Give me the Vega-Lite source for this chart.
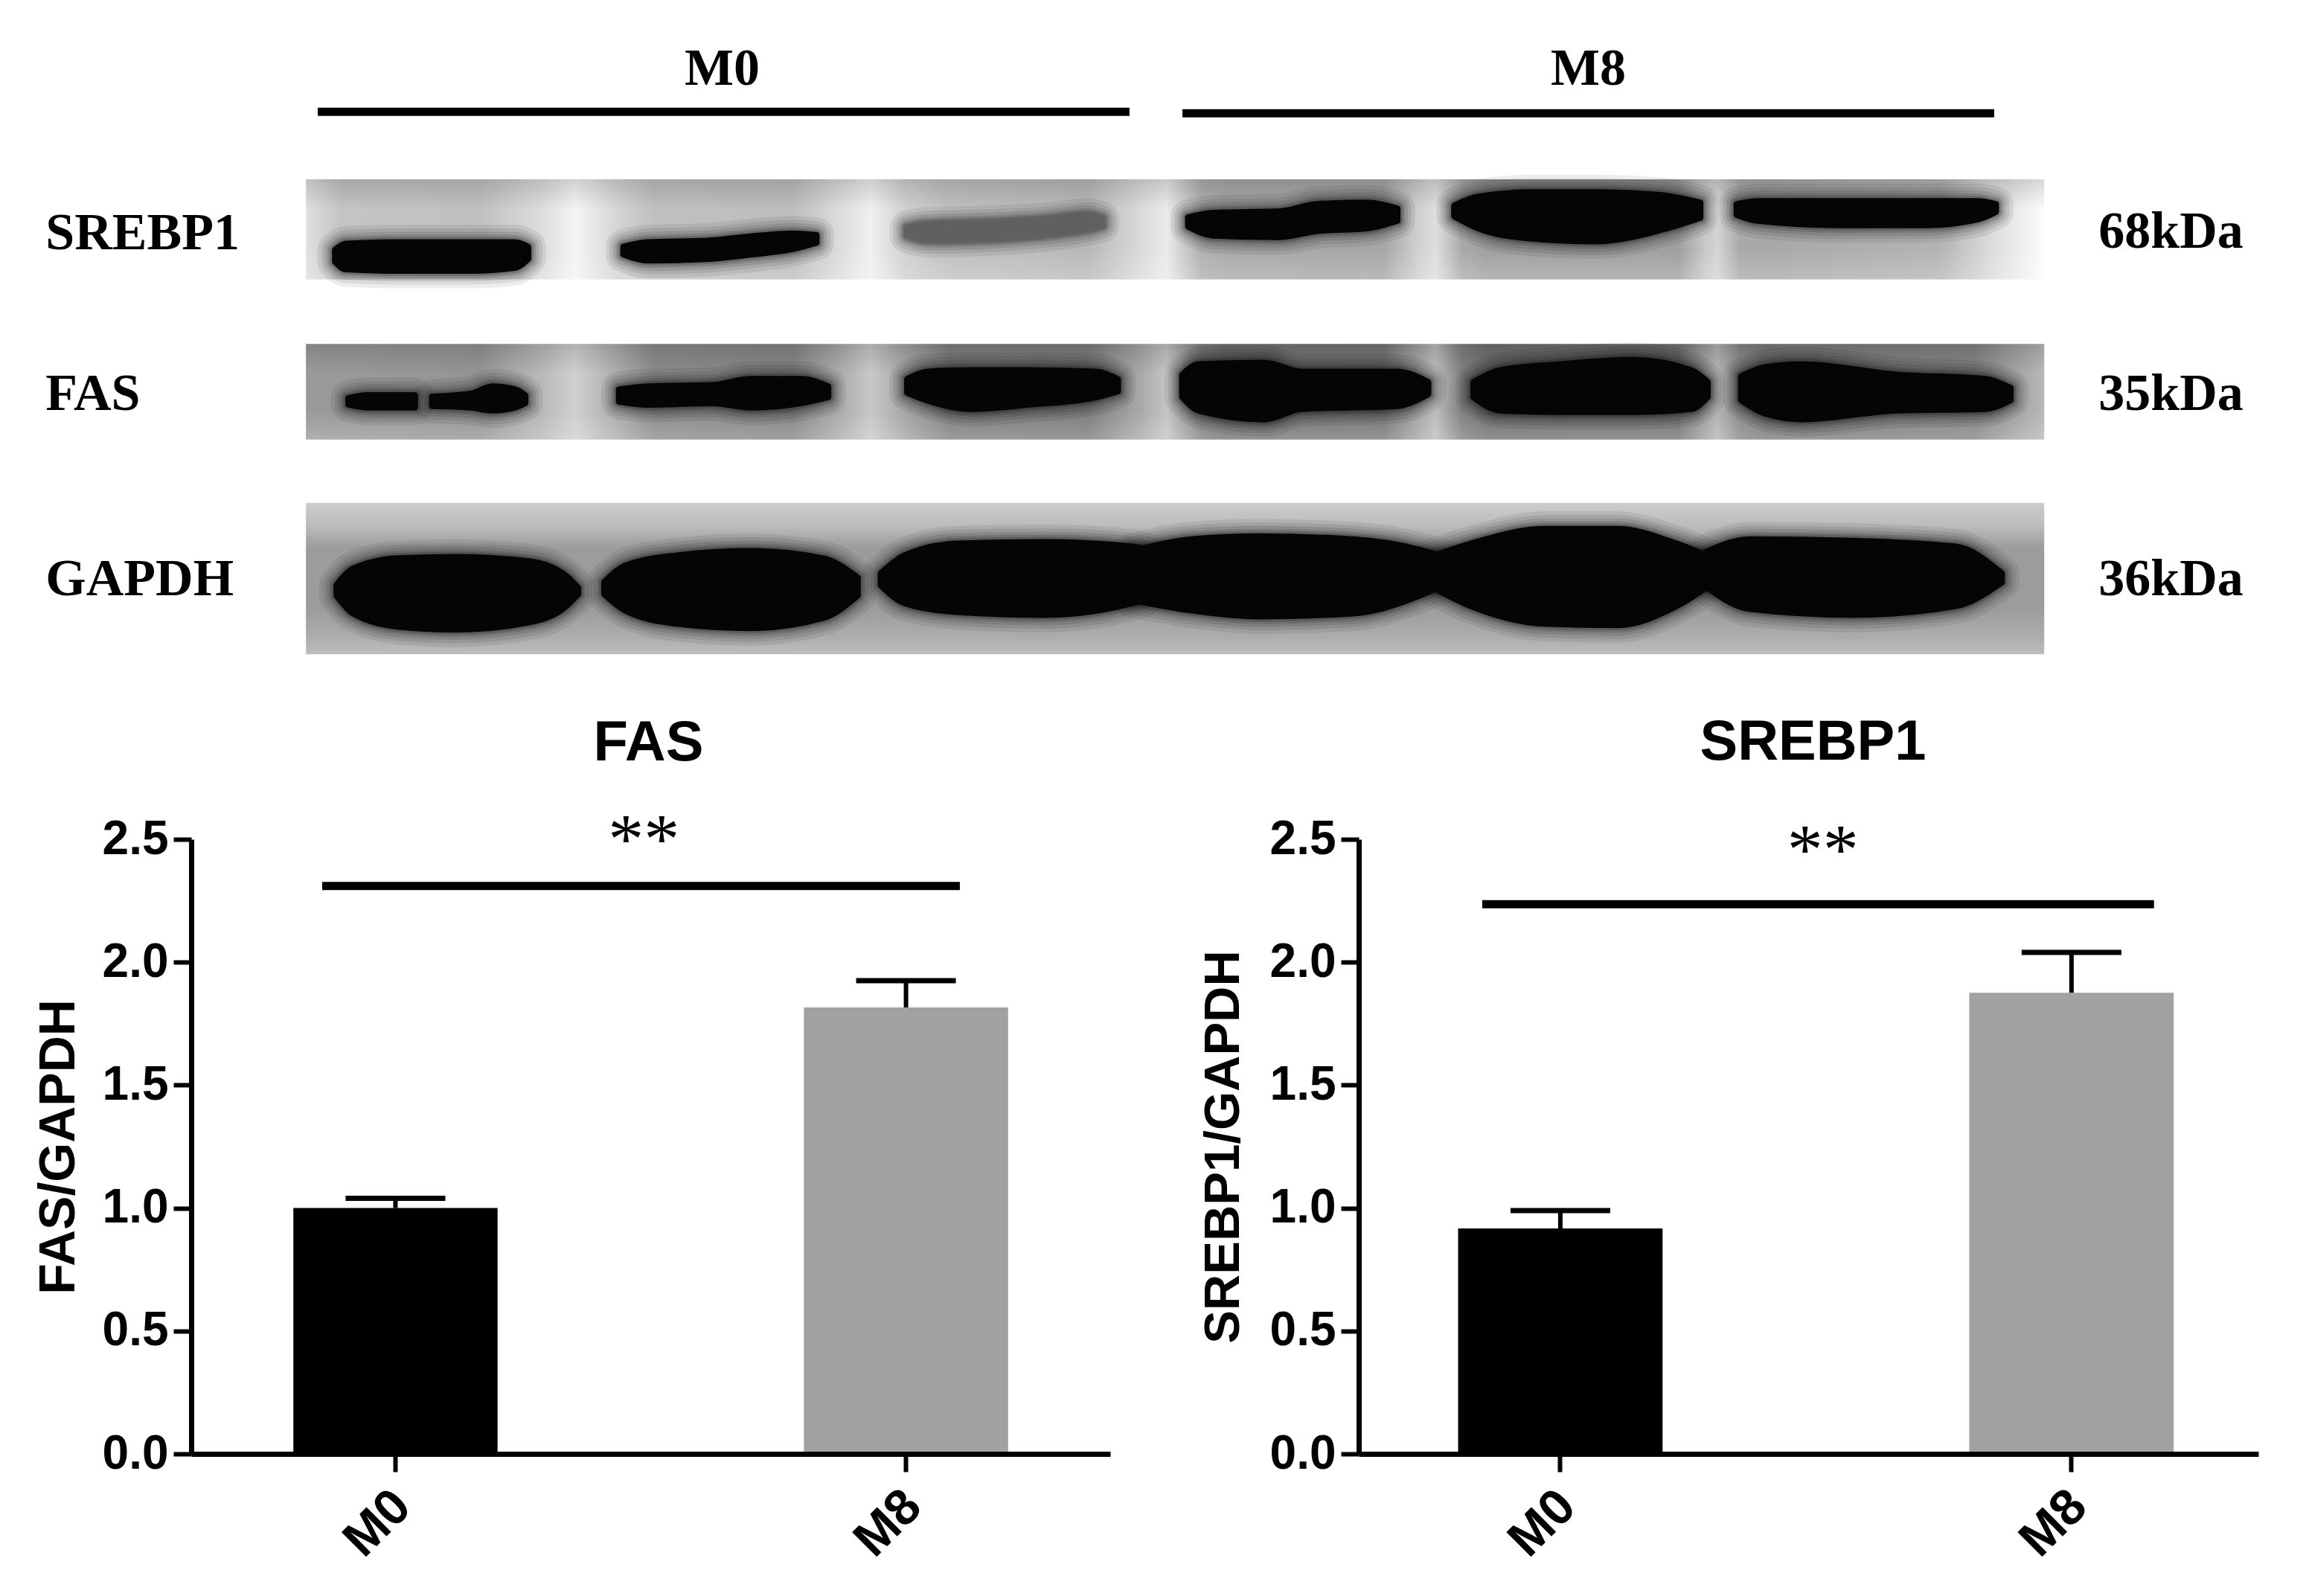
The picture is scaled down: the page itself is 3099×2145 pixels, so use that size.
{
  "$schema": "https://vega.github.io/schema/vega-lite/v6.json",
  "background": "white",
  "padding": {"left": 45, "top": 0, "right": 0, "bottom": 0},
  "spacing": 40,
  "datasets": {
    "strips": [
      {"blot": "SREBP1", "left": 208, "right": 1390, "top": 122, "bottom": 190},
      {"blot": "FAS", "left": 208, "right": 1390, "top": 234, "bottom": 299},
      {"blot": "GAPDH", "left": 208, "right": 1390, "top": 342, "bottom": 445}
    ],
    "bands": [
      {"band": "S1", "density": 1, "pos": 228, "top": 170, "bottom": 178},
      {"band": "S1", "density": 1, "pos": 235, "top": 166, "bottom": 183},
      {"band": "S1", "density": 1, "pos": 270, "top": 165, "bottom": 184},
      {"band": "S1", "density": 1, "pos": 320, "top": 165, "bottom": 184},
      {"band": "S1", "density": 1, "pos": 350, "top": 165, "bottom": 182},
      {"band": "S1", "density": 1, "pos": 359, "top": 168, "bottom": 176},
      {"band": "S2", "density": 1, "pos": 424, "top": 168, "bottom": 173},
      {"band": "S2", "density": 1, "pos": 440, "top": 165, "bottom": 177},
      {"band": "S2", "density": 1, "pos": 480, "top": 164, "bottom": 176},
      {"band": "S2", "density": 1, "pos": 510, "top": 161, "bottom": 173},
      {"band": "S2", "density": 1, "pos": 540, "top": 159, "bottom": 169},
      {"band": "S2", "density": 1, "pos": 555, "top": 160, "bottom": 165},
      {"band": "S3", "density": 0.6, "pos": 617, "top": 155, "bottom": 160},
      {"band": "S3", "density": 0.6, "pos": 630, "top": 153, "bottom": 163},
      {"band": "S3", "density": 0.6, "pos": 670, "top": 152, "bottom": 162},
      {"band": "S3", "density": 0.6, "pos": 710, "top": 150, "bottom": 159},
      {"band": "S3", "density": 0.6, "pos": 740, "top": 147, "bottom": 155},
      {"band": "S3", "density": 0.6, "pos": 749, "top": 149, "bottom": 153},
      {"band": "S4", "density": 1, "pos": 808, "top": 148, "bottom": 154},
      {"band": "S4", "density": 1, "pos": 825, "top": 145, "bottom": 160},
      {"band": "S4", "density": 1, "pos": 870, "top": 144, "bottom": 161},
      {"band": "S4", "density": 1, "pos": 895, "top": 139, "bottom": 157},
      {"band": "S4", "density": 1, "pos": 930, "top": 138, "bottom": 155},
      {"band": "S4", "density": 1, "pos": 950, "top": 142, "bottom": 150},
      {"band": "S5", "density": 1, "pos": 989, "top": 140, "bottom": 147},
      {"band": "S5", "density": 1, "pos": 1005, "top": 134, "bottom": 155},
      {"band": "S5", "density": 1, "pos": 1040, "top": 131, "bottom": 162},
      {"band": "S5", "density": 1, "pos": 1085, "top": 131, "bottom": 164},
      {"band": "S5", "density": 1, "pos": 1130, "top": 133, "bottom": 156},
      {"band": "S5", "density": 1, "pos": 1156, "top": 138, "bottom": 148},
      {"band": "S6", "density": 1, "pos": 1181, "top": 139, "bottom": 146},
      {"band": "S6", "density": 1, "pos": 1195, "top": 137, "bottom": 150},
      {"band": "S6", "density": 1, "pos": 1250, "top": 137, "bottom": 153},
      {"band": "S6", "density": 1, "pos": 1310, "top": 137, "bottom": 153},
      {"band": "S6", "density": 1, "pos": 1345, "top": 137, "bottom": 149},
      {"band": "S6", "density": 1, "pos": 1357, "top": 139, "bottom": 144},
      {"band": "F1a", "density": 1, "pos": 237, "top": 271, "bottom": 275},
      {"band": "F1a", "density": 1, "pos": 250, "top": 269, "bottom": 277},
      {"band": "F1a", "density": 1, "pos": 282, "top": 269, "bottom": 277},
      {"band": "F1b", "density": 1, "pos": 294, "top": 270, "bottom": 276},
      {"band": "F1b", "density": 1, "pos": 320, "top": 268, "bottom": 277},
      {"band": "F1b", "density": 1, "pos": 335, "top": 263, "bottom": 279},
      {"band": "F1b", "density": 1, "pos": 350, "top": 265, "bottom": 277},
      {"band": "F1b", "density": 1, "pos": 357, "top": 269, "bottom": 274},
      {"band": "F2", "density": 1, "pos": 421, "top": 265, "bottom": 273},
      {"band": "F2", "density": 1, "pos": 440, "top": 263, "bottom": 275},
      {"band": "F2", "density": 1, "pos": 485, "top": 262, "bottom": 274},
      {"band": "F2", "density": 1, "pos": 510, "top": 258, "bottom": 277},
      {"band": "F2", "density": 1, "pos": 545, "top": 258, "bottom": 274},
      {"band": "F2", "density": 1, "pos": 563, "top": 263, "bottom": 270},
      {"band": "F3", "density": 1, "pos": 617, "top": 258, "bottom": 267},
      {"band": "F3", "density": 1, "pos": 630, "top": 253, "bottom": 272},
      {"band": "F3", "density": 1, "pos": 660, "top": 252, "bottom": 278},
      {"band": "F3", "density": 1, "pos": 700, "top": 252, "bottom": 275},
      {"band": "F3", "density": 1, "pos": 745, "top": 253, "bottom": 270},
      {"band": "F3", "density": 1, "pos": 760, "top": 258, "bottom": 266},
      {"band": "F4", "density": 1, "pos": 804, "top": 255, "bottom": 270},
      {"band": "F4", "density": 1, "pos": 815, "top": 248, "bottom": 279},
      {"band": "F4", "density": 1, "pos": 860, "top": 247, "bottom": 285},
      {"band": "F4", "density": 1, "pos": 885, "top": 253, "bottom": 278},
      {"band": "F4", "density": 1, "pos": 950, "top": 253, "bottom": 276},
      {"band": "F4", "density": 1, "pos": 971, "top": 260, "bottom": 268},
      {"band": "F5", "density": 1, "pos": 1002, "top": 260, "bottom": 270},
      {"band": "F5", "density": 1, "pos": 1020, "top": 252, "bottom": 279},
      {"band": "F5", "density": 1, "pos": 1060, "top": 248, "bottom": 280},
      {"band": "F5", "density": 1, "pos": 1110, "top": 245, "bottom": 280},
      {"band": "F5", "density": 1, "pos": 1150, "top": 252, "bottom": 278},
      {"band": "F5", "density": 1, "pos": 1161, "top": 260, "bottom": 270},
      {"band": "F6", "density": 1, "pos": 1184, "top": 256, "bottom": 272},
      {"band": "F6", "density": 1, "pos": 1200, "top": 250, "bottom": 281},
      {"band": "F6", "density": 1, "pos": 1225, "top": 248, "bottom": 285},
      {"band": "F6", "density": 1, "pos": 1290, "top": 255, "bottom": 279},
      {"band": "F6", "density": 1, "pos": 1350, "top": 258, "bottom": 278},
      {"band": "F6", "density": 1, "pos": 1367, "top": 264, "bottom": 272},
      {"band": "G1", "density": 1, "pos": 229, "top": 398, "bottom": 405},
      {"band": "G1", "density": 1, "pos": 240, "top": 387, "bottom": 417},
      {"band": "G1", "density": 1, "pos": 270, "top": 380, "bottom": 426},
      {"band": "G1", "density": 1, "pos": 310, "top": 379, "bottom": 428},
      {"band": "G1", "density": 1, "pos": 360, "top": 382, "bottom": 423},
      {"band": "G1", "density": 1, "pos": 385, "top": 392, "bottom": 412},
      {"band": "G1", "density": 1, "pos": 393, "top": 400, "bottom": 404},
      {"band": "G2", "density": 1, "pos": 411, "top": 396, "bottom": 404},
      {"band": "G2", "density": 1, "pos": 425, "top": 385, "bottom": 415},
      {"band": "G2", "density": 1, "pos": 460, "top": 378, "bottom": 424},
      {"band": "G2", "density": 1, "pos": 510, "top": 375, "bottom": 427},
      {"band": "G2", "density": 1, "pos": 560, "top": 380, "bottom": 420},
      {"band": "G2", "density": 1, "pos": 583, "top": 393, "bottom": 405},
      {"band": "G3", "density": 1, "pos": 599, "top": 390, "bottom": 398},
      {"band": "G3", "density": 1, "pos": 615, "top": 378, "bottom": 410},
      {"band": "G3", "density": 1, "pos": 650, "top": 370, "bottom": 416},
      {"band": "G3", "density": 1, "pos": 710, "top": 369, "bottom": 418},
      {"band": "G3", "density": 1, "pos": 770, "top": 372, "bottom": 410},
      {"band": "G3", "density": 1, "pos": 790, "top": 380, "bottom": 400},
      {"band": "G4", "density": 1, "pos": 770, "top": 375, "bottom": 408},
      {"band": "G4", "density": 1, "pos": 810, "top": 367, "bottom": 415},
      {"band": "G4", "density": 1, "pos": 855, "top": 365, "bottom": 419},
      {"band": "G4", "density": 1, "pos": 920, "top": 367, "bottom": 417},
      {"band": "G4", "density": 1, "pos": 965, "top": 374, "bottom": 405},
      {"band": "G4", "density": 1, "pos": 985, "top": 380, "bottom": 396},
      {"band": "G5", "density": 1, "pos": 970, "top": 380, "bottom": 397},
      {"band": "G5", "density": 1, "pos": 1000, "top": 370, "bottom": 412},
      {"band": "G5", "density": 1, "pos": 1050, "top": 360, "bottom": 424},
      {"band": "G5", "density": 1, "pos": 1100, "top": 360, "bottom": 425},
      {"band": "G5", "density": 1, "pos": 1140, "top": 370, "bottom": 412},
      {"band": "G5", "density": 1, "pos": 1165, "top": 380, "bottom": 396},
      {"band": "G6", "density": 1, "pos": 1155, "top": 378, "bottom": 395},
      {"band": "G6", "density": 1, "pos": 1190, "top": 367, "bottom": 414},
      {"band": "G6", "density": 1, "pos": 1260, "top": 368, "bottom": 418},
      {"band": "G6", "density": 1, "pos": 1330, "top": 372, "bottom": 412},
      {"band": "G6", "density": 1, "pos": 1361, "top": 390, "bottom": 396}
    ],
    "fas_bars": [
      {"group": "M0", "value": 1.0, "upper": 1.04},
      {"group": "M8", "value": 1.816, "upper": 1.925}
    ],
    "srebp1_bars": [
      {"group": "M0", "value": 0.917, "upper": 0.99},
      {"group": "M8", "value": 1.876, "upper": 2.04}
    ]
  },
  "config": {
    "view": {"stroke": null},
    "axis": {"grid": false, "domainColor": "black", "tickColor": "black", "labelColor": "black", "titleColor": "black", "labelFont": "Liberation Sans", "titleFont": "Liberation Sans", "labelFontWeight": "bold", "titleFontWeight": "bold"},
    "title": {"font": "Liberation Sans", "fontWeight": "bold", "color": "black"}
  },
  "vconcat": [
    {
      "width": 2842,
      "height": 920,
      "layer": [
        {
          "data": {"name": "strips"},
          "transform": [{"filter": "datum.blot == 'SREBP1'"}],
          "mark": {"type": "rect", "color": {"gradient": "linear", "x1": 0, "y1": 0, "x2": 1, "y2": 0, "stops": [
            {"offset": 0, "color": "#e0e0e0"}, {"offset": 0.02, "color": "#c4c4c4"}, {"offset": 0.1, "color": "#c0c0c0"}, {"offset": 0.135, "color": "#dcdcdc"},
            {"offset": 0.155, "color": "#f4f4f4"}, {"offset": 0.18, "color": "#d4d4d4"}, {"offset": 0.2, "color": "#c0c0c0"}, {"offset": 0.28, "color": "#bdbdbd"},
            {"offset": 0.31, "color": "#e0e0e0"}, {"offset": 0.325, "color": "#f0f0f0"}, {"offset": 0.345, "color": "#d0d0d0"}, {"offset": 0.37, "color": "#c0c0c0"},
            {"offset": 0.45, "color": "#b8b8b8"}, {"offset": 0.48, "color": "#dadada"}, {"offset": 0.495, "color": "#eaeaea"}, {"offset": 0.515, "color": "#b0b0b0"},
            {"offset": 0.53, "color": "#a8a8a8"}, {"offset": 0.62, "color": "#a6a6a6"}, {"offset": 0.64, "color": "#d0d0d0"}, {"offset": 0.65, "color": "#dedede"},
            {"offset": 0.665, "color": "#aaaaaa"}, {"offset": 0.68, "color": "#a0a0a0"}, {"offset": 0.79, "color": "#a0a0a0"}, {"offset": 0.805, "color": "#c8c8c8"},
            {"offset": 0.812, "color": "#d4d4d4"}, {"offset": 0.825, "color": "#aaaaaa"}, {"offset": 0.84, "color": "#a8a8a8"}, {"offset": 0.94, "color": "#b4b4b4"},
            {"offset": 0.97, "color": "#dcdcdc"}, {"offset": 1, "color": "#fcfcfc"}
          ]}},
          "encoding": {
            "x": {"field": "left", "type": "quantitative", "axis": null, "scale": {"domain": [130, 1568], "nice": false, "zero": false}},
            "x2": {"field": "right"},
            "y": {"field": "top", "type": "quantitative", "axis": null, "scale": {"domain": [0, 465.6], "reverse": true, "nice": false, "zero": false}},
            "y2": {"field": "bottom"}
          }
        },
        {
          "data": {"name": "strips"},
          "transform": [{"filter": "datum.blot == 'FAS'"}],
          "mark": {"type": "rect", "color": {"gradient": "linear", "x1": 0, "y1": 0, "x2": 1, "y2": 0, "stops": [
            {"offset": 0, "color": "#9a9a9a"}, {"offset": 0.1, "color": "#949494"}, {"offset": 0.135, "color": "#b8b8b8"}, {"offset": 0.155, "color": "#d0d0d0"},
            {"offset": 0.18, "color": "#aaaaaa"}, {"offset": 0.2, "color": "#8c8c8c"}, {"offset": 0.28, "color": "#858585"}, {"offset": 0.31, "color": "#b0b0b0"},
            {"offset": 0.325, "color": "#c8c8c8"}, {"offset": 0.345, "color": "#a4a4a4"}, {"offset": 0.37, "color": "#808080"}, {"offset": 0.45, "color": "#7c7c7c"},
            {"offset": 0.48, "color": "#a8a8a8"}, {"offset": 0.495, "color": "#c4c4c4"}, {"offset": 0.515, "color": "#808080"}, {"offset": 0.53, "color": "#747474"},
            {"offset": 0.62, "color": "#767676"}, {"offset": 0.64, "color": "#a4a4a4"}, {"offset": 0.65, "color": "#bcbcbc"}, {"offset": 0.665, "color": "#808080"},
            {"offset": 0.68, "color": "#707070"}, {"offset": 0.79, "color": "#747474"}, {"offset": 0.805, "color": "#a0a0a0"}, {"offset": 0.812, "color": "#b4b4b4"},
            {"offset": 0.825, "color": "#888888"}, {"offset": 0.84, "color": "#7a7a7a"}, {"offset": 0.96, "color": "#848484"}, {"offset": 1, "color": "#b8b8b8"}
          ]}},
          "encoding": {
            "x": {"field": "left", "type": "quantitative"},
            "x2": {"field": "right"},
            "y": {"field": "top", "type": "quantitative"},
            "y2": {"field": "bottom"}
          }
        },
        {
          "data": {"name": "strips"},
          "transform": [{"filter": "datum.blot != 'GAPDH'"}],
          "mark": {"type": "rect", "color": {"gradient": "linear", "x1": 0, "y1": 0, "x2": 0, "y2": 1, "stops": [
            {"offset": 0, "color": "rgba(0,0,0,0.14)"}, {"offset": 0.3, "color": "rgba(0,0,0,0)"}, {"offset": 0.7, "color": "rgba(255,255,255,0)"}, {"offset": 1, "color": "rgba(255,255,255,0.22)"}
          ]}},
          "encoding": {
            "x": {"field": "left", "type": "quantitative"},
            "x2": {"field": "right"},
            "y": {"field": "top", "type": "quantitative"},
            "y2": {"field": "bottom"}
          }
        },
        {
          "data": {"name": "strips"},
          "transform": [{"filter": "datum.blot == 'GAPDH'"}],
          "mark": {"type": "rect", "color": {"gradient": "linear", "x1": 0, "y1": 0, "x2": 0, "y2": 1, "stops": [
            {"offset": 0, "color": "#cdcdcd"}, {"offset": 0.15, "color": "#bcbcbc"}, {"offset": 0.3, "color": "#9c9c9c"}, {"offset": 0.7, "color": "#9c9c9c"},
            {"offset": 0.88, "color": "#acacac"}, {"offset": 1, "color": "#bdbdbd"}
          ]}},
          "encoding": {
            "x": {"field": "left", "type": "quantitative"},
            "x2": {"field": "right"},
            "y": {"field": "top", "type": "quantitative"},
            "y2": {"field": "bottom"}
          }
        },
        {
          "data": {"name": "bands"},
          "encoding": {
            "x": {"field": "pos", "type": "quantitative"},
            "y": {"field": "top", "type": "quantitative"},
            "y2": {"field": "bottom"},
            "detail": {"field": "band"}
          },
          "layer": [
            {"mark": {"type": "area", "orient": "vertical", "interpolate": "monotone", "color": "black", "fillOpacity": 0.07, "stroke": "black", "strokeOpacity": 0.07, "strokeWidth": 48, "strokeJoin": "round"}},
            {"mark": {"type": "area", "orient": "vertical", "interpolate": "monotone", "color": "black", "fillOpacity": 0.08, "stroke": "black", "strokeOpacity": 0.08, "strokeWidth": 38, "strokeJoin": "round"}},
            {"mark": {"type": "area", "orient": "vertical", "interpolate": "monotone", "color": "black", "fillOpacity": 0.1, "stroke": "black", "strokeOpacity": 0.1, "strokeWidth": 29, "strokeJoin": "round"}},
            {"mark": {"type": "area", "orient": "vertical", "interpolate": "monotone", "color": "black", "fillOpacity": 0.12, "stroke": "black", "strokeOpacity": 0.13, "strokeWidth": 21, "strokeJoin": "round"}},
            {"mark": {"type": "area", "orient": "vertical", "interpolate": "monotone", "color": "black", "fillOpacity": 0.15, "stroke": "black", "strokeOpacity": 0.18, "strokeWidth": 15, "strokeJoin": "round"}},
            {
              "mark": {"type": "area", "orient": "vertical", "interpolate": "monotone", "strokeWidth": 9, "strokeJoin": "round"},
              "encoding": {
                "color": {"field": "density", "type": "quantitative", "legend": null, "scale": {"domain": [0, 1], "range": ["#ffffff", "#050505"]}},
                "stroke": {"field": "density", "type": "quantitative", "legend": null, "scale": {"domain": [0, 1], "range": ["#ffffff", "#050505"]}}
              }
            }
          ]
        },
        {
          "data": {"values": [
            {"left": 216, "right": 768, "level": 76},
            {"left": 804, "right": 1356, "level": 77}
          ]},
          "mark": {"type": "rule", "color": "black", "strokeWidth": 11},
          "encoding": {
            "x": {"field": "left", "type": "quantitative"},
            "x2": {"field": "right"},
            "y": {"field": "level", "type": "quantitative"}
          }
        },
        {
          "data": {"values": [
            {"label": "M0", "pos": 491, "level": 47},
            {"label": "M8", "pos": 1080, "level": 47}
          ]},
          "mark": {"type": "text", "font": "Liberation Serif", "fontWeight": "bold", "fontSize": 70, "align": "center", "baseline": "middle", "color": "black"},
          "encoding": {
            "x": {"field": "pos", "type": "quantitative"},
            "y": {"field": "level", "type": "quantitative"},
            "text": {"field": "label"}
          }
        },
        {
          "data": {"values": [
            {"label": "SREBP1", "pos": 31, "level": 159},
            {"label": "FAS", "pos": 31, "level": 268},
            {"label": "GAPDH", "pos": 31, "level": 394},
            {"label": "68kDa", "pos": 1427, "level": 158},
            {"label": "35kDa", "pos": 1427, "level": 268},
            {"label": "36kDa", "pos": 1427, "level": 394}
          ]},
          "mark": {"type": "text", "font": "Liberation Serif", "fontWeight": "bold", "fontSize": 70, "align": "left", "baseline": "middle", "color": "black"},
          "encoding": {
            "x": {"field": "pos", "type": "quantitative"},
            "y": {"field": "level", "type": "quantitative"},
            "text": {"field": "label"}
          }
        }
      ]
    },
    {
      "spacing": 118,
      "hconcat": [
        {
          "width": 1235,
          "height": 826,
          "title": {"text": "FAS", "fontSize": 76, "offset": 45, "anchor": "middle", "dx": -3},
          "resolve": {"scale": {"x": "independent"}},
          "layer": [
            {
              "data": {"name": "fas_bars"},
              "encoding": {
                "x": {"field": "group", "type": "nominal", "title": null, "scale": {"paddingInner": 0.6, "paddingOuter": 0.2}, "axis": {"labelAngle": -45, "labelAlign": "right", "labelBaseline": "middle", "labelFontSize": 68, "labelPadding": 36, "labelOffset": 10, "tickSize": 24, "tickWidth": 6, "domainWidth": 7, "zindex": 1}}
              },
              "layer": [
                {
                  "mark": {"type": "bar"},
                  "encoding": {
                    "y": {"field": "value", "type": "quantitative", "title": "FAS/GAPDH", "scale": {"domain": [0, 2.5], "nice": false}, "axis": {"values": [0, 0.5, 1, 1.5, 2, 2.5], "format": ".1f", "labelFontSize": 64, "labelPadding": 7, "titleFontSize": 68, "titlePadding": 24, "tickSize": 24, "tickWidth": 6, "domainWidth": 7, "zindex": 1}},
                    "color": {"field": "group", "type": "nominal", "legend": null, "scale": {"domain": ["M0", "M8"], "range": ["#000000", "#a1a1a4"]}}
                  }
                },
                {
                  "mark": {"type": "rule", "color": "black", "strokeWidth": 6},
                  "encoding": {
                    "y": {"field": "value", "type": "quantitative"},
                    "y2": {"field": "upper"}
                  }
                },
                {
                  "mark": {"type": "tick", "color": "black", "size": 134, "thickness": 7, "opacity": 1},
                  "encoding": {
                    "y": {"field": "upper", "type": "quantitative"}
                  }
                }
              ]
            },
            {
              "data": {"values": [{"start": 0.1425, "end": 0.8364, "level": 2.31}]},
              "mark": {"type": "rule", "color": "black", "strokeWidth": 11},
              "encoding": {
                "x": {"field": "start", "type": "quantitative", "axis": null, "scale": {"domain": [0, 1], "nice": false}},
                "x2": {"field": "end"},
                "y": {"field": "level", "type": "quantitative"}
              }
            },
            {
              "data": {"values": [{"pos": 0.4925, "level": 2.49, "label": "**"}]},
              "mark": {"type": "text", "font": "Liberation Serif", "fontSize": 96, "align": "center", "baseline": "middle", "color": "black"},
              "encoding": {
                "x": {"field": "pos", "type": "quantitative", "axis": null, "scale": {"domain": [0, 1], "nice": false}},
                "y": {"field": "level", "type": "quantitative"},
                "text": {"field": "label"}
              }
            }
          ]
        },
        {
          "width": 1209,
          "height": 826,
          "title": {"text": "SREBP1", "fontSize": 76, "offset": 59, "anchor": "middle", "dx": 6},
          "resolve": {"scale": {"x": "independent"}},
          "layer": [
            {
              "data": {"name": "srebp1_bars"},
              "encoding": {
                "x": {"field": "group", "type": "nominal", "title": null, "scale": {"paddingInner": 0.6, "paddingOuter": 0.18, "align": 0.54}, "axis": {"labelAngle": -45, "labelAlign": "right", "labelBaseline": "middle", "labelFontSize": 68, "labelPadding": 36, "labelOffset": 10, "tickSize": 24, "tickWidth": 6, "domainWidth": 7, "zindex": 1}}
              },
              "layer": [
                {
                  "mark": {"type": "bar"},
                  "encoding": {
                    "y": {"field": "value", "type": "quantitative", "title": "SREBP1/GAPDH", "scale": {"domain": [0, 2.5], "nice": false}, "axis": {"values": [0, 0.5, 1, 1.5, 2, 2.5], "format": ".1f", "labelFontSize": 64, "labelPadding": 7, "titleFontSize": 67, "titlePadding": 28, "tickSize": 24, "tickWidth": 6, "domainWidth": 7, "zindex": 1}},
                    "color": {"field": "group", "type": "nominal", "legend": null, "scale": {"domain": ["M0", "M8"], "range": ["#000000", "#a1a1a4"]}}
                  }
                },
                {
                  "mark": {"type": "rule", "color": "black", "strokeWidth": 6},
                  "encoding": {
                    "y": {"field": "value", "type": "quantitative"},
                    "y2": {"field": "upper"}
                  }
                },
                {
                  "mark": {"type": "tick", "color": "black", "size": 134, "thickness": 7, "opacity": 1},
                  "encoding": {
                    "y": {"field": "upper", "type": "quantitative"}
                  }
                }
              ]
            },
            {
              "data": {"values": [{"start": 0.1373, "end": 0.884, "level": 2.236}]},
              "mark": {"type": "rule", "color": "black", "strokeWidth": 11},
              "encoding": {
                "x": {"field": "start", "type": "quantitative", "axis": null, "scale": {"domain": [0, 1], "nice": false}},
                "x2": {"field": "end"},
                "y": {"field": "level", "type": "quantitative"}
              }
            },
            {
              "data": {"values": [{"pos": 0.516, "level": 2.45, "label": "**"}]},
              "mark": {"type": "text", "font": "Liberation Serif", "fontSize": 96, "align": "center", "baseline": "middle", "color": "black"},
              "encoding": {
                "x": {"field": "pos", "type": "quantitative", "axis": null, "scale": {"domain": [0, 1], "nice": false}},
                "y": {"field": "level", "type": "quantitative"},
                "text": {"field": "label"}
              }
            }
          ]
        }
      ]
    }
  ]
}
